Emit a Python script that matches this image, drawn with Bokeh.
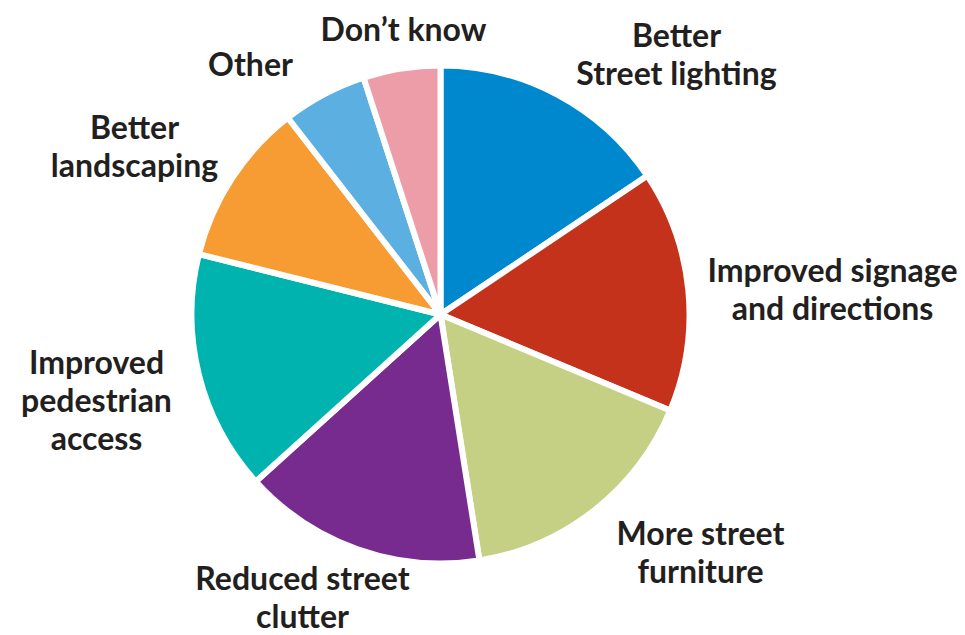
import math
from bokeh.plotting import figure
from bokeh.models import Range1d, ColumnDataSource
from bokeh.core.properties import value
from bokeh.embed import file_html
from bokeh.resources import INLINE

# Data (percent shares, clockwise from 12 o'clock)
categories = ["Better\nStreet lighting", "Improved signage\nand directions", "More street\nfurniture",
              "Reduced street\nclutter", "Improved\npedestrian\naccess", "Better\nlandscaping",
              "Other", "Don\u2019t know"]
shares = [15.6, 15.7, 16.2, 15.8, 15.6, 10.6, 5.5, 5.0]
colors = ["#0088CF", "#C4321C", "#C5D085", "#772B8E", "#00B3AF", "#F79C33", "#5BAFE1", "#EC9DA7"]

# Layout: label anchor positions in page pixels (centre of text block)
label_pos = [(676, 53), (832, 288), (700, 551), (302, 596), (96, 399), (134, 145), (250, 63), (403, 28)]

W, H = 965, 635
p = figure(width=W, height=H, output_backend="svg", toolbar_location=None,
           x_range=Range1d(0, W), y_range=Range1d(0, H), min_border=0)
p.axis.visible = False
p.grid.visible = False
p.outline_line_color = None
p.background_fill_color = "white"

total = sum(shares)
cx, cy = 440, H - 314
starts, ends = [], []
cum = 0.0
for s in shares:
    a0 = math.pi / 2 - (cum + s) / total * 2 * math.pi
    a1 = math.pi / 2 - cum / total * 2 * math.pi
    starts.append(a0)
    ends.append(a1)
    cum += s

src = ColumnDataSource(dict(start=starts, end=ends, color=colors, cat=categories))
p.wedge(x=cx, y=cy, radius=249, start_angle="start", end_angle="end", direction="anticlock",
        fill_color="color", line_color="white", line_width=6, source=src)

lh = 38
for cat, (px, py) in zip(categories, label_pos):
    lines = cat.split("\n")
    n = len(lines)
    for i, ln in enumerate(lines):
        y_page = py + (i - (n - 1) / 2) * lh
        p.text(x=[px], y=[H - y_page], text=[ln], text_align="center", text_baseline="middle",
               text_font=value("Lato"), text_font_style="bold", text_font_size="32px", text_color="#231F20")

open("out.html", "w").write(file_html(p, INLINE))
